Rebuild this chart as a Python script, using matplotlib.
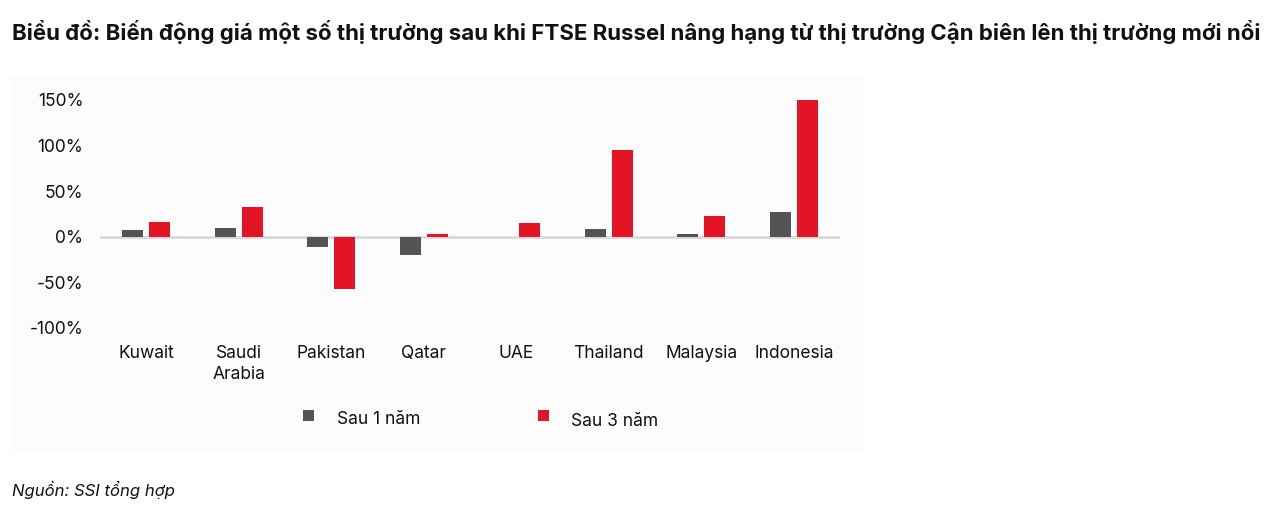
import matplotlib.pyplot as plt
import matplotlib.patches as mpatches
import numpy as np

plt.rcParams['font.family'] = ['Inter', 'DejaVu Sans']

# Data
markets = ['Kuwait', 'Saudi\nArabia', 'Pakistan', 'Qatar', 'UAE', 'Thailand', 'Malaysia', 'Indonesia']
after_1y = [8, 10, -11, -20, 0, 9, 3, 27]
after_3y = [16, 33, -57, 3, 15, 95, 23, 150]
series_names = ['Sau 1 năm', 'Sau 3 năm']

gray = '#545454'
red = '#e31424'

fig = plt.figure(figsize=(12.77, 5.11), dpi=100)
fig.patch.set_facecolor('white')

# light panel behind the chart
panel = mpatches.Rectangle((10 / 1277, 1 - 452 / 511), 855 / 1277, 377 / 511,
                           transform=fig.transFigure, facecolor='#fcfcfc',
                           edgecolor='none', zorder=-5)
fig.add_artist(panel)

ax = fig.add_axes([100 / 1277, 1 - 328 / 511, 740 / 1277, 228 / 511])
ax.set_zorder(3)
ax.set_facecolor('none')

x = np.arange(len(markets))
w = 0.23
ax.bar(x - 0.145, after_1y, width=w, color=gray, label=series_names[0], zorder=2)
ax.bar(x + 0.145, after_3y, width=w, color=red, label=series_names[1], zorder=2)

ax.axhline(0, color='#d9d9d9', linewidth=2, zorder=1)

ax.set_xlim(-0.5, len(markets) - 0.5)
ax.set_ylim(-100, 150)
ax.set_yticks([-100, -50, 0, 50, 100, 150])
ax.set_yticklabels(['-100%', '-50%', '0%', '50%', '100%', '150%'], fontsize=12.5, color='#111111')
ax.set_xticks(x)
ax.set_xticklabels(markets, fontsize=12.5, color='#111111', linespacing=1.3, va='top')
ax.tick_params(axis='both', length=0)
ax.tick_params(axis='y', pad=12)
ax.tick_params(axis='x', pad=12)
for s in ax.spines.values():
    s.set_visible(False)

# legend
fig.add_artist(mpatches.Rectangle((303 / 1277, 1 - 421 / 511), 11 / 1277, 11 / 511,
                                  transform=fig.transFigure, facecolor=gray, edgecolor='none'))
fig.add_artist(mpatches.Rectangle((538 / 1277, 1 - 421 / 511), 11 / 1277, 11 / 511,
                                  transform=fig.transFigure, facecolor=red, edgecolor='none'))
fig.text(337 / 1277, 1 - 419 / 511, series_names[0], fontsize=12.5, va='center', color='#111111')
fig.text(571 / 1277, 1 - 421 / 511, series_names[1], fontsize=12.5, va='center', color='#111111')

fig.text(12 / 1277, 1 - 32 / 511,
         'Biểu đồ: Biến động giá một số thị trường sau khi FTSE Russel nâng hạng từ thị trường Cận biên lên thị trường mới nổi',
         fontsize=16, fontweight='bold', va='center', color='#111111')
fig.text(12 / 1277, 1 - 490 / 511, 'Nguồn: SSI tổng hợp', fontsize=12, style='italic',
         va='center', color='#111111')

fig.savefig('out.png', dpi=100)
